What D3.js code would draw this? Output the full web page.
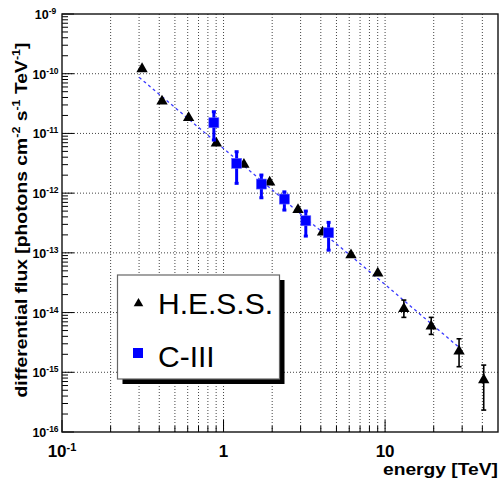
<!DOCTYPE html>
<html>
<head>
<meta charset="utf-8">
<script src="https://cdn.jsdelivr.net/npm/d3@7"></script>
<style>
  body { margin: 0; background: #fff; }
  text { font-family: "Liberation Sans", Arial, Helvetica, sans-serif; }
</style>
</head>
<body>
<div id="chart"></div>
<script>
// H.E.S.S. points (energy in TeV, flux, error band low/high)
const hessE = [0.313, 0.416, 0.608, 0.902, 1.337, 1.93, 2.89, 4.10, 6.15, 9.01, 13.07, 19.3, 28.7, 40.8]
const hessF = [1.23e-10, 3.53e-11, 1.86e-11, 6.99e-12, 3.07e-12, 1.55e-12, 5.36e-13, 2.26e-13, 9.37e-14, 4.64e-14, 1.18e-14, 6.01e-15, 2.29e-15, 7.6e-16]
const hessLo = [null, null, null, null, null, null, null, null, null, null, 8.31e-15, 4.31e-15, 1.24e-15, 2.33e-16]
const hessHi = [null, null, null, null, null, null, null, null, null, null, 1.62e-14, 8.31e-15, 3.64e-15, 1.32e-15]

// C-III points
const c3E = [0.871, 1.205, 1.715, 2.38, 3.23, 4.47]
const c3F = [1.51e-11, 3.16e-12, 1.42e-12, 7.96e-13, 3.45e-13, 2.17e-13]
const c3Lo = [7.75e-12, 1.46e-12, 8.37e-13, 5.21e-13, 1.91e-13, 1.11e-13]
const c3Hi = [2.31e-11, 4.94e-12, 2.01e-12, 1.05e-12, 5.01e-13, 3.24e-13]

// fitted spectrum
const fitE = [0.3, 1, 3, 10, 29]
const fitF = [8.71e-11, 5.59e-12, 4.47e-13, 2.95e-14, 2.55e-15]

const legendLabels = ["H.E.S.S.", "C-III"]
const xLabelTicks = [[0.1, "10", "-1"], [1, "1", null], [10, "10", null]]

const width = 500, height = 478
const frame = {left: 62, top: 14, right: 498, bottom: 432}

const svg = d3.select("#chart").append("svg")
  .attr("width", width).attr("height", height)

const x = d3.scaleLog().domain([0.1, 50]).range([frame.left, frame.right])
const y = d3.scaleLog().domain([1e-16, 1e-9]).range([frame.bottom, frame.top])

const isPow10 = v => Math.abs(Math.log10(v) - Math.round(Math.log10(v))) < 1e-6

// grid
const xt = x.ticks().filter(v => v > 0.1 && v < 50)
svg.append("g").selectAll("line").data(xt).join("line")
  .attr("x1", d => x(d)).attr("x2", d => x(d))
  .attr("y1", frame.top).attr("y2", frame.bottom)
  .attr("stroke", "#444").attr("stroke-width", 1).attr("stroke-dasharray", "1,2")

const yt = y.ticks()
svg.append("g").selectAll("line").data(yt.filter(v => isPow10(v) && v > 1e-16 && v < 1e-9)).join("line")
  .attr("x1", frame.left).attr("x2", frame.right)
  .attr("y1", d => y(d)).attr("y2", d => y(d))
  .attr("stroke", "#444").attr("stroke-width", 1).attr("stroke-dasharray", "1,2")

// ticks
svg.append("g").selectAll("line").data(x.ticks().filter(v => v < 50)).join("line")
  .attr("x1", d => x(d)).attr("x2", d => x(d))
  .attr("y1", frame.bottom).attr("y2", d => frame.bottom - (isPow10(d) ? 12 : 6))
  .attr("stroke", "#000")

svg.append("g").selectAll("line").data(yt).join("line")
  .attr("y1", d => y(d)).attr("y2", d => y(d))
  .attr("x1", frame.left).attr("x2", d => frame.left + (isPow10(d) ? 12 : 6))
  .attr("stroke", "#000")

// frame
svg.append("rect")
  .attr("x", frame.left).attr("y", frame.top)
  .attr("width", frame.right - frame.left).attr("height", frame.bottom - frame.top)
  .attr("fill", "none").attr("stroke", "#111").attr("stroke-width", 1.4)

// x tick labels
xLabelTicks.forEach(([v, base, sup]) => {
  const t = svg.append("text")
    .attr("x", x(v)).attr("y", 457)
    .attr("text-anchor", "middle")
    .attr("font-weight", "bold").attr("font-size", 17)
    .text(base)
  if (sup) t.append("tspan").attr("dy", -6).attr("font-size", 11).text(sup)
})

// y tick labels
yt.filter(isPow10).forEach(v => {
  const t = svg.append("text")
    .attr("x", 45.5).attr("y", y(v) + 5)
    .attr("text-anchor", "middle")
    .attr("font-weight", "bold").attr("font-size", 12.5)
    .text("10")
  t.append("tspan").attr("dy", -5).attr("font-size", 8.5).text(String(Math.round(Math.log10(v))))
})

// axis titles
svg.append("text")
  .attr("x", 498).attr("y", 475)
  .attr("text-anchor", "end")
  .attr("font-weight", "bold").attr("font-size", 17)
  .attr("textLength", 115).attr("lengthAdjust", "spacingAndGlyphs")
  .text("energy [TeV]")

const yTitle = svg.append("text")
  .attr("transform", "translate(26.5,220) rotate(-90)")
  .attr("text-anchor", "middle")
  .attr("font-weight", "bold").attr("font-size", 17)
  .attr("textLength", 355).attr("lengthAdjust", "spacingAndGlyphs")
yTitle.append("tspan").text("differential flux [photons cm")
yTitle.append("tspan").attr("dy", -7).attr("font-size", 11).text("-2")
yTitle.append("tspan").attr("dy", 7).text(" s")
yTitle.append("tspan").attr("dy", -7).attr("font-size", 11).text("-1")
yTitle.append("tspan").attr("dy", 7).text(" TeV")
yTitle.append("tspan").attr("dy", -7).attr("font-size", 11).text("-1")
yTitle.append("tspan").attr("dy", 7).text("]")

// fit line
svg.append("path")
  .datum(fitE.map((e, i) => [e, fitF[i]]))
  .attr("d", d3.line().x(d => x(d[0])).y(d => y(d[1])))
  .attr("fill", "none").attr("stroke", "#3a3aff").attr("stroke-width", 1.3)
  .attr("stroke-dasharray", "3,3")

const tri = d3.symbol().type(d3.symbolTriangle).size(56)

// H.E.S.S. error bars + markers
const hess = hessE.map((e, i) => ({e, f: hessF[i], lo: hessLo[i], hi: hessHi[i]}))
const hessErr = svg.append("g").selectAll("g").data(hess.filter(d => d.lo)).join("g")
hessErr.append("line")
  .attr("x1", d => x(d.e)).attr("x2", d => x(d.e))
  .attr("y1", d => y(d.lo)).attr("y2", d => y(d.hi))
  .attr("stroke", "#000").attr("stroke-width", 1.6)
hessErr.selectAll("line.cap").data(d => [[d.e, d.lo], [d.e, d.hi]]).join("line")
  .attr("class", "cap")
  .attr("x1", d => x(d[0]) - 2.5).attr("x2", d => x(d[0]) + 2.5)
  .attr("y1", d => y(d[1])).attr("y2", d => y(d[1]))
  .attr("stroke", "#000").attr("stroke-width", 1.6)

svg.append("g").selectAll("path").data(hess).join("path")
  .attr("d", tri)
  .attr("transform", d => `translate(${x(d.e)},${y(d.f) + 0.5})`)
  .attr("fill", "#000")

// C-III error bars + markers
const c3 = c3E.map((e, i) => ({e, f: c3F[i], lo: c3Lo[i], hi: c3Hi[i]}))
const c3Err = svg.append("g").selectAll("g").data(c3).join("g")
c3Err.append("line")
  .attr("x1", d => x(d.e)).attr("x2", d => x(d.e))
  .attr("y1", d => y(d.lo)).attr("y2", d => y(d.hi))
  .attr("stroke", "#0000ff").attr("stroke-width", 3)
c3Err.selectAll("rect").data(d => [[d.e, d.lo], [d.e, d.hi]]).join("rect")
  .attr("x", d => x(d[0]) - 2).attr("y", d => y(d[1]) - 1.5)
  .attr("width", 4).attr("height", 3)
  .attr("fill", "#0000ff")

svg.append("g").selectAll("rect").data(c3).join("rect")
  .attr("x", d => x(d.e) - 5).attr("y", d => y(d.f) - 5)
  .attr("width", 10).attr("height", 10)
  .attr("fill", "#0000ff").attr("stroke", "#6060ff").attr("stroke-width", 0.6)

// legend
const lg = svg.append("g").attr("transform", "translate(117.5,275)")
lg.append("rect").attr("x", 5).attr("y", 5).attr("width", 162).attr("height", 104).attr("fill", "#000")
lg.append("rect").attr("width", 162).attr("height", 104)
  .attr("fill", "#fff").attr("stroke", "#666").attr("stroke-width", 1.2)

lg.append("path").attr("d", d3.symbol().type(d3.symbolTriangle).size(40))
  .attr("transform", "translate(21,28.5)").attr("fill", "#000")
lg.append("rect").attr("x", 15.5).attr("y", 73).attr("width", 10).attr("height", 10).attr("fill", "#0000ff")

lg.selectAll("text.lab").data(legendLabels).join("text")
  .attr("class", "lab")
  .attr("x", 40.5).attr("y", (d, i) => 39 + i * 53)
  .attr("font-size", 30)
  .text(d => d)
</script>
</body>
</html>
